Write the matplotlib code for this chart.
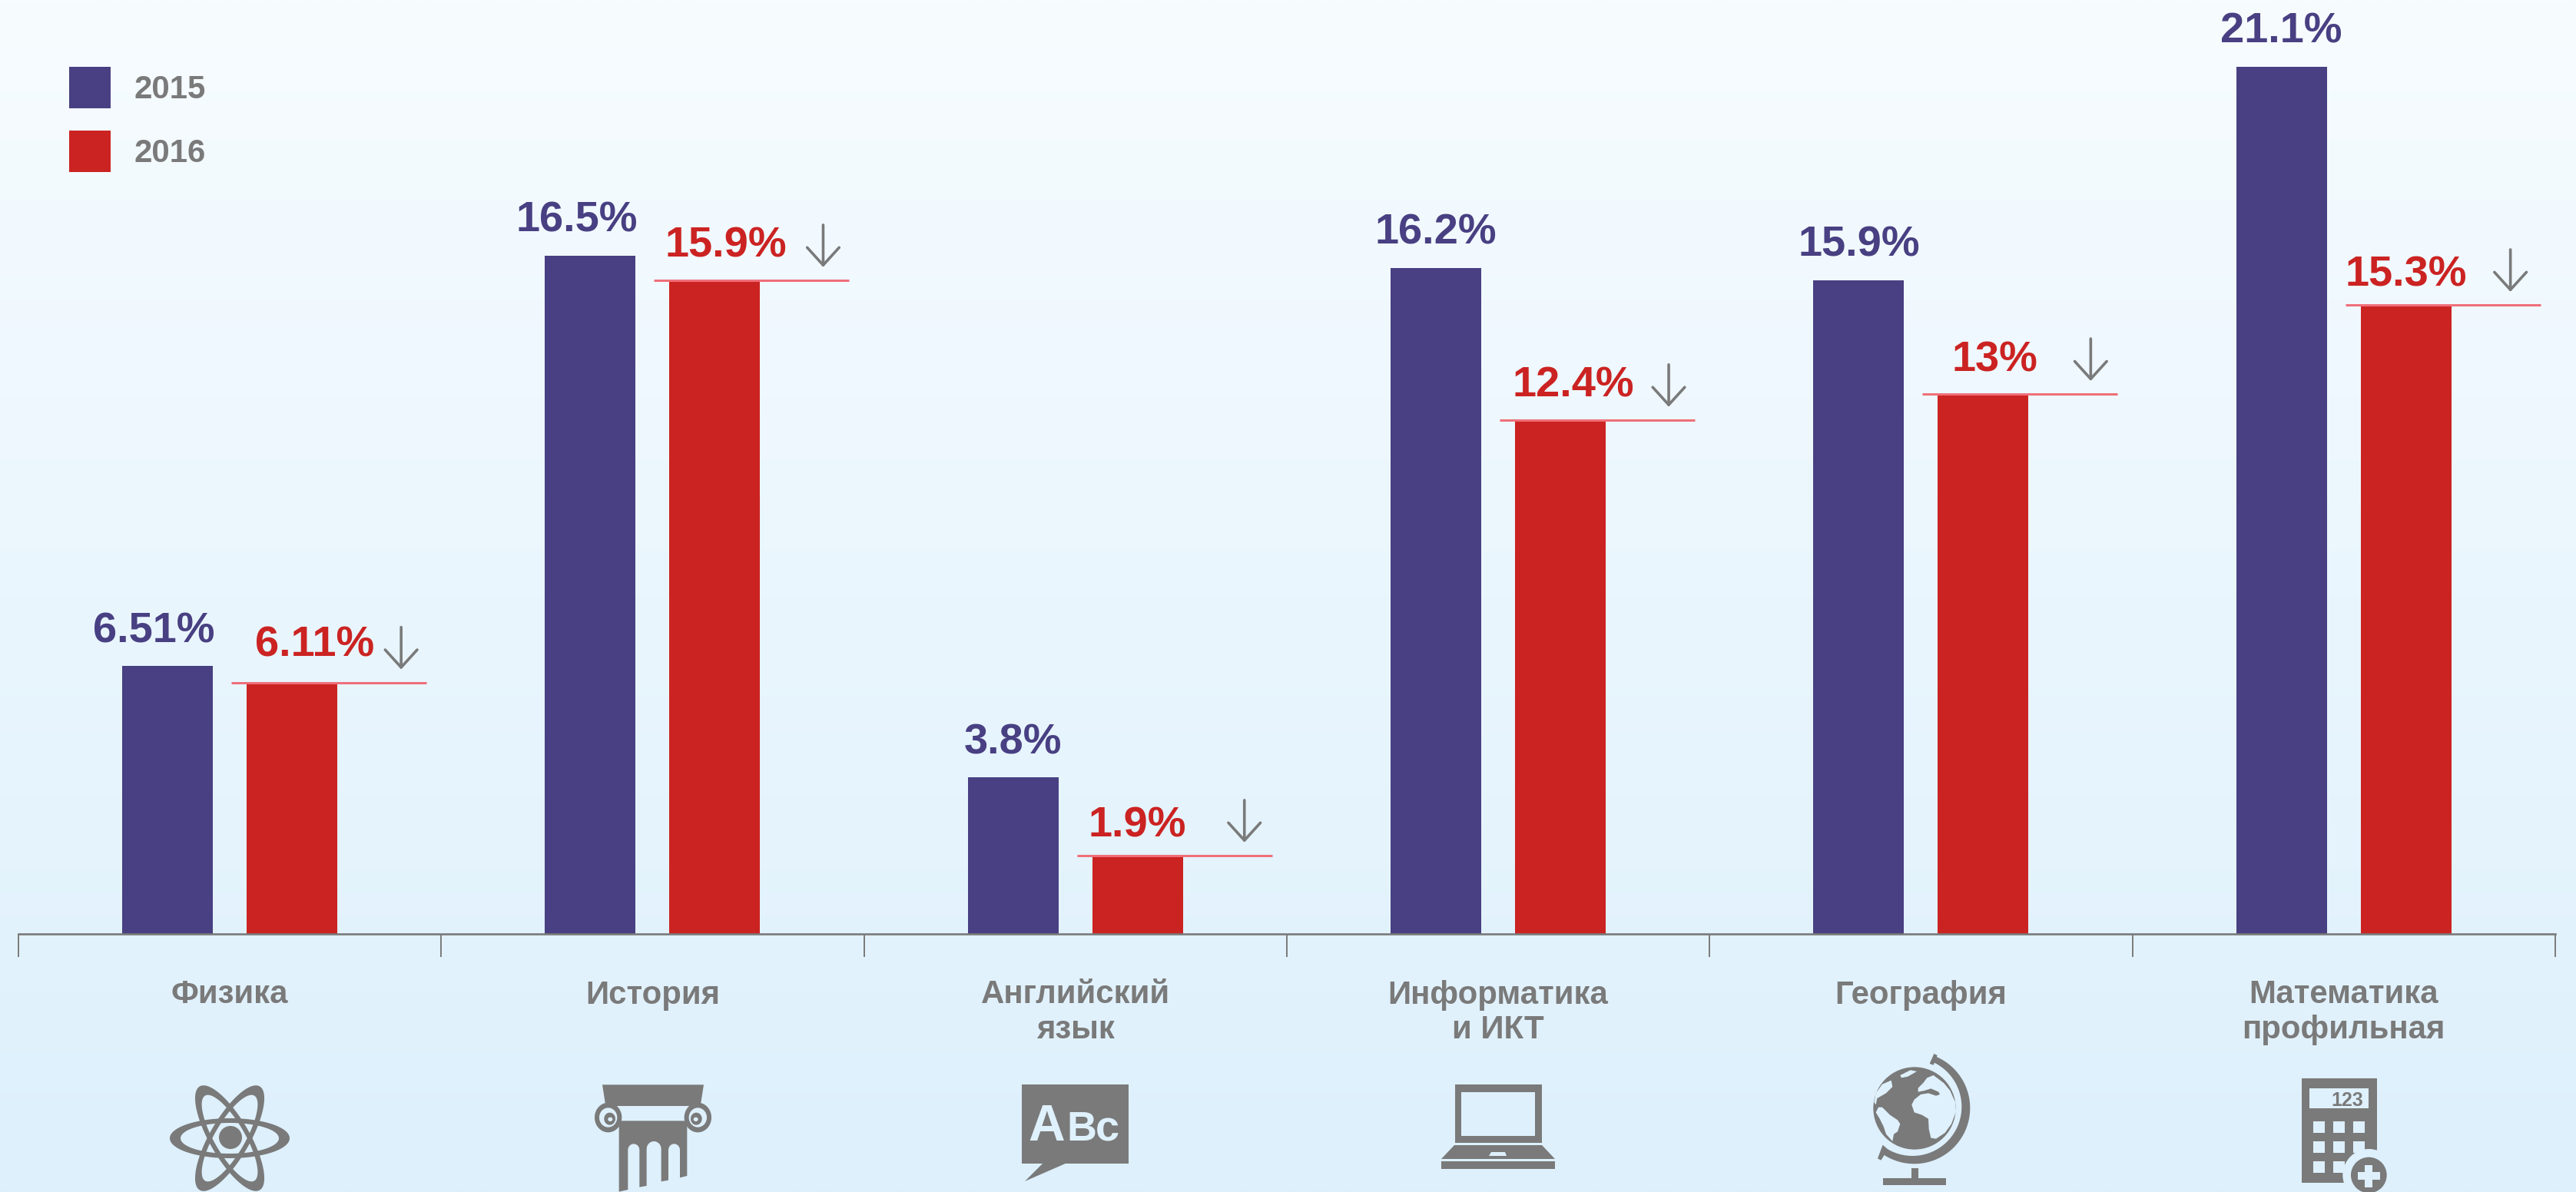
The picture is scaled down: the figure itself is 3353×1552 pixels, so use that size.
import matplotlib
matplotlib.use('Agg')
import matplotlib.pyplot as plt
import numpy as np
from matplotlib.patches import PathPatch, Polygon, Rectangle, Circle
from matplotlib.path import Path

plt.rcParams['font.family'] = ['Liberation Sans', 'DejaVu Sans']
plt.rcParams['font.weight'] = 'bold'

# ---------------- data ----------------
subjects = ['Физика', 'История', 'Английский\nязык', 'Информатика\nи ИКТ', 'География', 'Математика\nпрофильная']
series_names = ['2015', '2016']
values_2015 = [6.51, 16.5, 3.8, 16.2, 15.9, 21.1]
values_2016 = [6.11, 15.9, 1.9, 12.5, 13.13, 15.3]
labels_2015 = ['6.51%', '16.5%', '3.8%', '16.2%', '15.9%', '21.1%']
labels_2016 = ['6.11%', '15.9%', '1.9%', '12.4%', '13%', '15.3%']

# label nudges in pixels, the source placed them by hand
dx_2015 = [-18, -18, 0, 0, 0, 0]
dx_2016 = [29, 14, 0, 17, 15, 0]
dy_2016 = [34, 30, 24, 30, 30, 24]
arrow_dx = [142, 141, 139, 141, 140, 136]

W, H = 3353, 1552
BLUE = '#484082'
RED = '#CB2322'
GREY = '#7A7A7A'
PINK = '#EF6F79'
TOP_BG = np.array([247, 252, 255]) / 255
BOT_BG = np.array([221, 240, 252]) / 255
PX = 0.72  # points per pixel at dpi 100


def bg_at(y):
    return tuple(TOP_BG + (BOT_BG - TOP_BG) * y / H)


fig = plt.figure(figsize=(W / 100, H / 100), dpi=100)

# ---------------- background + icons, pixel coordinates ----------------
back = fig.add_axes([0, 0, 1, 1], zorder=0)
back.axis('off')
grad = np.linspace(0, 1, 400)[:, None, None] * (BOT_BG - TOP_BG) + TOP_BG
back.imshow(grad, extent=[0, W, H, 0], aspect='auto', interpolation='bilinear')
back.set_xlim(0, W)
back.set_ylim(H, 0)


def ellipse_pts(cx, cy, a, b, ang=0):
    t = np.linspace(0, 2 * np.pi, 120)
    ex, ey = a * np.cos(t), b * np.sin(t)
    r = np.radians(ang)
    return np.c_[cx + ex * np.cos(r) - ey * np.sin(r), cy + ex * np.sin(r) + ey * np.cos(r)]


def rect_pts(x0, y0, x1, y1):
    return np.array([(x0, y0), (x1, y0), (x1, y1), (x0, y1), (x0, y0)], dtype=float)


def add_ring(outer, inner):
    path = Path.make_compound_path(Path(outer, closed=True), Path(inner[::-1], closed=True))
    back.add_patch(PathPatch(path, fc=GREY, lw=0))


def poly(pts, color=GREY):
    back.add_patch(Polygon(pts, closed=True, fc=color, lw=0))


def box(x0, y0, x1, y1, color=GREY):
    back.add_patch(Rectangle((x0, y0), x1 - x0, y1 - y0, fc=color, lw=0))


def zoomed(pts, x0, y0):
    return np.array(pts, dtype=float) / 3 + [x0, y0]


# atom
for ang in (0, 60, -60):
    add_ring(ellipse_pts(299, 1482, 78, 26, ang), ellipse_pts(299, 1482, 64, 20, ang))
back.add_patch(Circle((300, 1481), 15, fc=GREY, lw=0))

# column, coordinates from a 3x crop
cx0, cy0 = 760, 1400
poly(zoomed([(72, 37), (468, 37), (455, 120), (85, 120)], cx0, cy0))
for vx, mirror in ((95, 1), (445, -1)):
    add_ring(zoomed(ellipse_pts(vx, 165, 53, 58), cx0, cy0), zoomed(ellipse_pts(vx, 165, 35, 38), cx0, cy0))
    add_ring(zoomed(ellipse_pts(vx + 6 * mirror, 170, 22, 24), cx0, cy0), zoomed(ellipse_pts(vx + 8 * mirror, 172, 9, 8), cx0, cy0))
box(*zoomed([(95, 105), (445, 120)], cx0, cy0).ravel())


def arch(x0, x1, y_top, y_spring):
    t = np.linspace(0, np.pi, 16)
    return list(zip((x0 + x1) / 2 + (x1 - x0) / 2 * np.cos(t), y_spring - (y_spring - y_top) * np.sin(t)))


shaft = [(137, 178), (403, 178), (403, 393), (375, 400)]
shaft += arch(330, 375, 268, 292) + [(330, 410), (302, 415)]
shaft += arch(245, 302, 258, 288) + [(245, 432), (217, 437)]
shaft += arch(172, 217, 268, 292) + [(172, 447), (137, 455)]
poly(zoomed(shaft, cx0, cy0))

# speech bubble
box(1330, 1412, 1469, 1515)
poly([(1358, 1514), (1334, 1538), (1389, 1514)])
back.text(1338, 1485, 'A', fontsize=66 * PX, color=bg_at(1460), va='baseline', ha='left')
back.text(1388, 1485, 'B', fontsize=54 * PX, color=bg_at(1460), va='baseline', ha='left')
back.text(1426, 1485, 'c', fontsize=56 * PX, color=bg_at(1460), va='baseline', ha='left')

# laptop
add_ring(rect_pts(1894, 1412, 2007, 1488), rect_pts(1902, 1422, 1998, 1479))
poly([(1893, 1491), (2007, 1491), (2024, 1509), (1876, 1509)])
poly([(1941, 1500), (1959, 1500), (1961, 1505), (1938, 1505)], bg_at(1500))
box(1876, 1512, 2024, 1522)

# globe, coordinates from a 3x crop
gx0, gy0 = 2420, 1360
back.add_patch(Circle(zoomed([(216, 249)], gx0, gy0)[0], 161 / 3, fc=GREY, lw=0))
land = [
    [(265, 130), (290, 120), (330, 150), (355, 180), (375, 225), (378, 262), (360, 310), (335, 345), (300, 368),
     (280, 365), (272, 330), (270, 290), (245, 275), (215, 265), (205, 235), (215, 215), (240, 195), (270, 190),
     (300, 200), (315, 195), (310, 185), (280, 172), (255, 180), (230, 185), (230, 170), (250, 150)],
    [(75, 245), (90, 245), (120, 275), (150, 295), (160, 310), (150, 340), (135, 350), (130, 378), (105, 350),
     (95, 320), (80, 290), (65, 265)],
    [(125, 140), (130, 165), (105, 190), (70, 210), (65, 235), (58, 225), (65, 190), (90, 155)],
    [(160, 120), (200, 100), (225, 105), (190, 125), (165, 130)],
]
for shape in land:
    poly(zoomed(shape, gx0, gy0), bg_at(1440))
t = np.radians(np.linspace(-68, 125, 80))
outer = np.c_[215 + 218 * np.cos(t), 248 + 218 * np.sin(t)]
inner = np.c_[208 + 192 * np.cos(t), 243 + 192 * np.sin(t)]
poly(zoomed(np.r_[outer, inner[::-1]], gx0, gy0))
poly(zoomed([(275, 75), (292, 36), (305, 42), (290, 80)], gx0, gy0))
poly(zoomed([(92, 392), (72, 445), (85, 452), (112, 410)], gx0, gy0))
box(*zoomed([(203, 483), (230, 525)], gx0, gy0).ravel())
box(*zoomed([(93, 522), (338, 548)], gx0, gy0).ravel())

# calculator, coordinates from a 3x crop
kx0, ky0 = 2970, 1390
box(*zoomed([(77, 42), (372, 450)], kx0, ky0).ravel())
box(*zoomed([(108, 80), (340, 160)], kx0, ky0).ravel(), color=bg_at(1430))
for kx in (123, 201, 279):
    for ky in (209, 287, 365):
        box(*zoomed([(kx, ky), (kx + 45, ky + 45)], kx0, ky0).ravel(), color=bg_at(1490))
back.text(kx0 + 318 / 3, ky0 + 150 / 3, '123', fontsize=25 * PX, color=GREY, ha='right', va='baseline')
back.add_patch(Circle(zoomed([(340, 420)], kx0, ky0)[0], 102 / 3, fc=bg_at(1530), lw=0))
back.add_patch(Circle(zoomed([(340, 420)], kx0, ky0)[0], 70 / 3, fc=GREY, lw=0))
box(*zoomed([(296, 408), (384, 438)], kx0, ky0).ravel(), color=bg_at(1530))
box(*zoomed([(325, 380), (355, 468)], kx0, ky0).ravel(), color=bg_at(1530))

# ---------------- chart ----------------
AXIS_Y = 1215.5
PX_PER_UNIT = 53.5
STEP = 550.3
ax = fig.add_axes([24 / W, 1 - AXIS_Y / H, 6 * STEP / W, AXIS_Y / H], zorder=1)
ax.patch.set_alpha(0)
x = np.arange(len(subjects))
width = 118 / STEP
off = 81 / STEP

bars_a = ax.bar(x - off, values_2015, width, color=BLUE, label=series_names[0])
bars_b = ax.bar(x + off, values_2016, width, color=RED, label=series_names[1])
ax.set_xlim(-0.5, 5.5)
ax.set_ylim(0, AXIS_Y / PX_PER_UNIT)

for sp in ('top', 'left', 'right'):
    ax.spines[sp].set_visible(False)
ax.spines['bottom'].set_color(GREY)
ax.spines['bottom'].set_linewidth(1.9)
ax.set_yticks([])
ax.set_xticks(x)
ax.set_xticklabels(subjects, fontsize=42 * PX, color=GREY, linespacing=1.175)
ax.set_xticks(np.arange(7) - 0.5, minor=True)
ax.tick_params(axis='x', which='major', length=0, pad=60 * PX)
ax.tick_params(axis='x', which='minor', length=30 * PX, width=1.4, color=GREY)

for i in x:
    ax.annotate(labels_2015[i], (i - off, values_2015[i]), xytext=(dx_2015[i] * PX, 31 * PX),
                textcoords='offset points', ha='center', va='baseline', fontsize=56 * PX, color=BLUE)
    ax.annotate(labels_2016[i], (i + off, values_2016[i]), xytext=(dx_2016[i] * PX, dy_2016[i] * PX),
                textcoords='offset points', ha='center', va='baseline', fontsize=56 * PX, color=RED)
    # level line over the 2016 bar
    ax.hlines(values_2016[i], i + off - 79 / STEP, i + off + 175 / STEP, color=PINK, lw=3 * PX, zorder=3)
    # down arrow
    ax.annotate('', xy=(i + off + arrow_dx[i] / STEP, values_2016[i] + 17 / PX_PER_UNIT),
                xytext=(i + off + arrow_dx[i] / STEP, values_2016[i] + 72 / PX_PER_UNIT),
                arrowprops=dict(arrowstyle='->,head_length=16.5,head_width=15', mutation_scale=1,
                                lw=3.6 * PX, color=GREY, shrinkA=0, shrinkB=0))

leg = ax.legend(handles=[bars_a, bars_b], loc='upper left', bbox_to_anchor=(90 / W, 1 - 87 / H),
                bbox_transform=fig.transFigure, frameon=False, fontsize=42 * PX, borderpad=0, borderaxespad=0,
                handlelength=54 / 42, handleheight=1.6, handletextpad=31 / 42, labelspacing=29 / 42)
for txt in leg.get_texts():
    txt.set_color(GREY)

fig.savefig('out.png', dpi=100)
